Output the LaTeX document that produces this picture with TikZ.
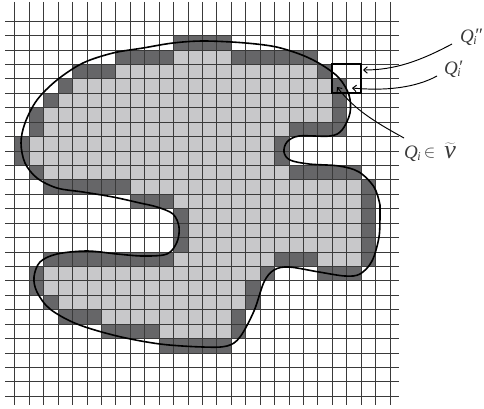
\documentclass[tikz,border=0pt]{standalone}
\usepackage{fontspec}
\setmainfont{Liberation Serif}
\usetikzlibrary{arrows.meta}
\definecolor{cellDark}{HTML}{666668}
\definecolor{cellLight}{HTML}{C8C8CA}
\definecolor{gridInk}{HTML}{3A3A3A}
\definecolor{labelInk}{HTML}{3A3A3A}
\newcommand{\qsym}{\textit{Q}\rlap{\kern-.5pt\raisebox{-.28ex}{\fontsize{12}{12}\selectfont\textit{i}}}}
\newcommand{\qprime}[1]{\textit{Q}\rlap{\kern-.5pt\raisebox{-.28ex}{\fontsize{12}{12}\selectfont\textit{i}}}\rlap{\kern.2pt\raisebox{.05ex}{\fontsize{19}{19}\selectfont\textit{#1}}}}
\tikzset{
  gridline/.style={gridInk,line width=.62pt},
  outline/.style={black,line width=1.6pt,line join=round},
  cellbox/.style={black,line width=1.7pt},
  pointer/.style={black,line width=.95pt,-{Straight Barb[length=3.6pt,width=6.5pt,line width=1pt]}},
  lab/.style={text=labelInk,font=\fontsize{19}{19}\selectfont,inner sep=0pt,anchor=base west}
}
\begin{document}
\begin{tikzpicture}[x=1pt,y=-1pt]
\clip (0,0) rectangle (484,408);
\useasboundingbox (0,0) rectangle (484,408);
\fill[white] (0,0) rectangle (484,408);
\begin{scope}[shift={(14.7,21)},x=14.43pt,y=-14.43pt]
\foreach \r/\a/\b in {2/11/14,3/7/20,4/4/21,5/3/21,6/2/21,7/2/18,8/1/17,9/1/17,10/2/18,11/8/23,12/11/23,13/12/23,14/12/23,15/12/23,16/11/17,16/21/23,17/2/16,18/2/15,19/3/15,20/6/14,21/10/14}
  \fill[cellLight] (\a,\r) rectangle ({\b+1},{\r+1});
\foreach \r/\a/\b in {1/11/14,2/7/10,2/15/20,3/4/6,3/21/21,4/3/3,4/22/22,5/2/2,5/22/22,6/1/1,6/22/22,7/1/1,7/19/22,8/0/0,8/18/18,9/0/0,9/18/18,10/1/1,10/19/23,11/2/7,11/24/24,12/8/10,12/24/24,13/11/11,13/24/24,14/11/11,14/24/24,15/11/11,15/24/24,16/2/10,16/18/20,16/24/24,17/1/1,17/17/17,17/21/23,18/1/1,18/16/16,19/2/2,19/16/16,20/3/5,20/15/15,21/6/9,21/15/15,22/10/14}
  \fill[cellDark] (\a,\r) rectangle ({\b+1},{\r+1});
\foreach \k in {0,...,26} {
  \draw[gridline] (\k,-1.32) -- (\k,26.6);
  \draw[gridline] (-.65,\k) -- (26.6,\k);
}
\draw[cellbox] (22,3) rectangle (24,5);
\end{scope}
\draw[outline] plot[smooth cycle,tension=.55] coordinates {
(203,41)(242,42.7)(275,46.7)(302,55)(322,65)(339,78)(349,95)(350,113)(342,130)(330,136)(299,136)(287,142)(284,152)(290,160)(309,164)(339,166)(359,172)(374,187)(380,205)(380,214)(379,237)(372,261)(360,274)(345,276)(319,272)(289,267)(274,270)(264,282)(254,311)(240,337)(227,346)(203,347)(160,344)(117,336)(77,324)(50,309)(37,292)(34,277)(40,262)(57,254)(87,251)(117,254)(143,256)(167,254)(177,242)(179,227)(173,214)(157,207)(140,203)(113,197)(83,192)(57,188)(37,178)(25,163)(21,143)(25,123)(37,100)(57,80)(83,63)(113,53)(143,48)(173,43)};
\node[lab] (qdd) at (460,42) {\qprime{″}};
\node[lab] (qd) at (444,74) {\qprime{′}};
\node[lab] (qv) at (404,158) {\qsym\hspace{6pt}\raisebox{.5pt}{\fontsize{17}{17}\selectfont$\in$}\hspace{9pt}{\fontsize{26}{26}\selectfont$\widetilde{\mbox{\textit{v}}}$}};
\coordinate (t1) at (363,70);
\coordinate (t2) at (352,88);
\coordinate (t3) at (337,87);
\coordinate (s1) at (452,44);
\coordinate (s2) at (437,76);
\coordinate (s3) at (404,138);
\draw[pointer] (s1) .. controls (420,61) and (395,70) .. (t1);
\draw[pointer] (s2) .. controls (415,88) and (385,91) .. (t2);
\draw[pointer] (s3) .. controls (375,122) and (355,110) .. (t3);
\end{tikzpicture}
\end{document}
